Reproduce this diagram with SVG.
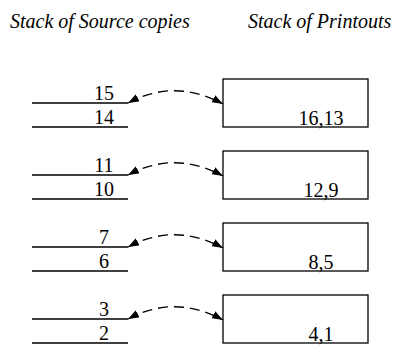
<svg xmlns="http://www.w3.org/2000/svg" width="395" height="362" viewBox="0 0 395 362">
<style>
text{font-family:"Liberation Serif",Tinos,"Times New Roman",Times,"Nimbus Roman","Nimbus Roman No9 L",FreeSerif,"Noto Serif","DejaVu Serif",serif;font-size:20px;fill:#000}
.title{font-style:italic}
.ln{stroke:#000;stroke-width:1.3;fill:none}
.box{stroke:#000;stroke-width:1.3;fill:#fff}
.arc{stroke:#000;stroke-width:1.3;fill:none;stroke-dasharray:10,6}
</style>
<defs>
<marker id="ah" viewBox="0 0 11 8" refX="11" refY="4" markerWidth="11" markerHeight="8" markerUnits="userSpaceOnUse" orient="auto-start-reverse">
<path d="M0,0 L11,4 L0,8 z" fill="#000"/>
</marker>
</defs>
<text class="title" x="10" y="28">Stack of Source copies</text>
<text class="title" x="248" y="28">Stack of Printouts</text>
<g id="src4"><line class="ln" x1="32" y1="103" x2="128" y2="103"/><line class="ln" x1="32" y1="127" x2="128" y2="127"/><text x="104" y="100" text-anchor="middle">15</text><text x="104" y="124" text-anchor="middle">14</text></g>
<g id="print4"><rect class="box" x="223" y="79" width="145" height="48"/><text x="321" y="125" text-anchor="middle">16,13</text></g>
<g id="src3"><line class="ln" x1="32" y1="175" x2="128" y2="175"/><line class="ln" x1="32" y1="199" x2="128" y2="199"/><text x="104" y="172" text-anchor="middle">11</text><text x="104" y="196" text-anchor="middle">10</text></g>
<g id="print3"><rect class="box" x="223" y="151" width="145" height="48"/><text x="321" y="197" text-anchor="middle">12,9</text></g>
<g id="src2"><line class="ln" x1="32" y1="247" x2="128" y2="247"/><line class="ln" x1="32" y1="271" x2="128" y2="271"/><text x="104" y="244" text-anchor="middle">7</text><text x="104" y="268" text-anchor="middle">6</text></g>
<g id="print2"><rect class="box" x="223" y="223" width="145" height="48"/><text x="321" y="269" text-anchor="middle">8,5</text></g>
<g id="src1"><line class="ln" x1="32" y1="319" x2="128" y2="319"/><line class="ln" x1="32" y1="343" x2="128" y2="343"/><text x="104" y="316" text-anchor="middle">3</text><text x="104" y="340" text-anchor="middle">2</text></g>
<g id="print1"><rect class="box" x="223" y="295" width="145" height="48"/><text x="321" y="341" text-anchor="middle">4,1</text></g>
<g id="connectors">
<path class="arc" d="M128,103 Q175,78 223,104" marker-start="url(#ah)" marker-end="url(#ah)"/>
<path class="arc" d="M128,175 Q175,150 223,176" marker-start="url(#ah)" marker-end="url(#ah)"/>
<path class="arc" d="M128,247 Q175,222 223,248" marker-start="url(#ah)" marker-end="url(#ah)"/>
<path class="arc" d="M128,319 Q175,294 223,320" marker-start="url(#ah)" marker-end="url(#ah)"/>
</g>
</svg>
